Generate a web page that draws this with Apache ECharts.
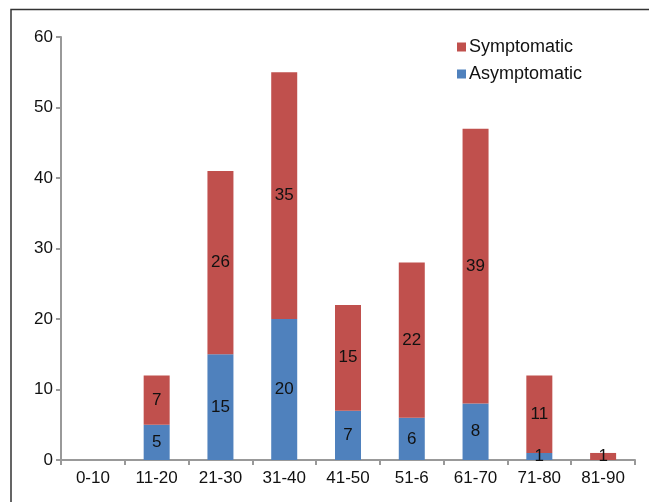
<!DOCTYPE html>
<html><head><meta charset="utf-8">
<script src="https://cdn.jsdelivr.net/npm/echarts@6/dist/echarts.min.js"></script>
<style>html,body{margin:0;padding:0;background:#fff}#c{width:649px;height:502px}</style>
</head><body><div id="c"></div>
<script>
var categories = ['0-10','11-20','21-30','31-40','41-50','51-6','61-70','71-80','81-90'];
var asymptomatic = [0,5,15,20,7,6,8,1,0];
var symptomatic = [0,7,26,35,15,22,39,11,1];
var yTicks = [0,10,20,30,40,50,60];

var chart = echarts.init(document.getElementById('c'));
var labelCfg = {
  show: true, position: 'inside', color: '#111', fontSize: 17,
  fontFamily: 'Liberation Sans, Arial, sans-serif',
  formatter: function(p){ return p.value ? String(p.value) : ''; }
};
chart.setOption({
  animation: false,
  textStyle: {fontFamily: 'Liberation Sans, Arial, sans-serif'},
  graphic: [{
    type: 'polyline', silent: true,
    shape: {points: [[11, 510], [11, 9.5], [660, 9.5]]},
    style: {stroke: '#333', lineWidth: 1.5, fill: null}
  }],
  legend: {
    orient: 'vertical', left: 457, top: 38, itemWidth: 9, itemHeight: 9, itemGap: 9,
    icon: 'rect', padding: 0,
    data: ['Symptomatic', 'Asymptomatic'],
    textStyle: {fontSize: 18, lineHeight: 18, color: '#111', padding: [0,0,0,-2]}
  },
  grid: {left: 61, top: 37, right: 14, bottom: 42, containLabel: false},
  xAxis: {
    type: 'category', data: categories,
    axisLine: {lineStyle: {color: '#999', width: 2}},
    axisTick: {show: true, length: 5, lineStyle: {color: '#999', width: 2}},
    axisLabel: {fontSize: 17, color: '#111', margin: 10}
  },
  yAxis: {
    type: 'value', min: 0, max: 60, interval: 10,
    axisLine: {show: true, lineStyle: {color: '#999', width: 2}},
    axisTick: {show: true, length: 5, lineStyle: {color: '#999', width: 2}},
    splitLine: {show: false},
    axisLabel: {fontSize: 17, color: '#111', margin: 8,
      formatter: function(v){ return yTicks.indexOf(v) >= 0 ? String(v) : ''; }}
  },
  series: [
    {name: 'Asymptomatic', type: 'bar', stack: 'a', data: asymptomatic,
     barWidth: 26, itemStyle: {color: '#4F81BD'}, label: labelCfg},
    {name: 'Symptomatic', type: 'bar', stack: 'a', data: symptomatic,
     barWidth: 26, itemStyle: {color: '#C0504D'}, label: labelCfg}
  ]
});
</script></body></html>
